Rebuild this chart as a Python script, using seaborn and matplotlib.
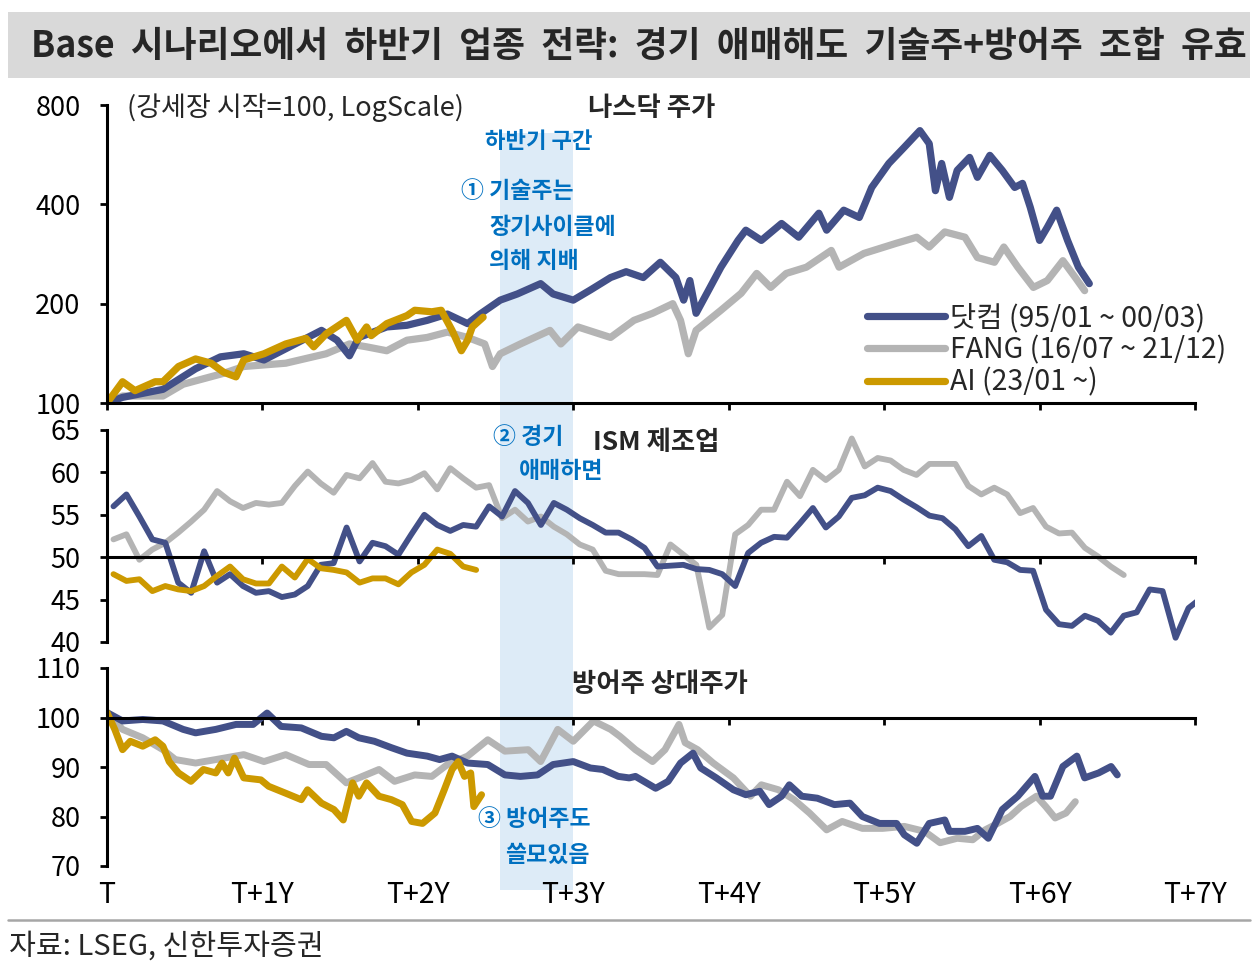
import pandas as pd
import seaborn as sns
import matplotlib.pyplot as plt
import matplotlib.transforms as mtransforms
from matplotlib.patches import Rectangle
from matplotlib.lines import Line2D

# 시리즈 이름, 색
names = ["닷컴 (95/01 ~ 00/03)", "FANG (16/07 ~ 21/12)", "AI (23/01 ~)"]
colors = ["#435088", "#B4B4B4", "#CC9900"]

# 나스닥 주가 (강세장 시작=100), (T 이후 연수, 값)
nasdaq_dot = [(0.00, 100), (0.10, 104), (0.36, 110), (0.57, 127), (0.73, 138), (0.88, 141),
              (1.01, 135), (1.15, 146), (1.38, 166), (1.48, 155), (1.56, 139), (1.62, 158),
              (1.80, 170), (1.93, 172), (2.06, 178), (2.19, 186), (2.32, 174), (2.40, 186),
              (2.53, 205), (2.64, 214), (2.79, 230), (2.87, 214), (3.00, 205), (3.11, 220),
              (3.24, 240), (3.34, 250), (3.45, 240), (3.56, 267), (3.66, 240), (3.71, 205),
              (3.75, 235), (3.79, 187), (3.88, 224), (3.95, 258), (4.06, 311), (4.11, 334),
              (4.21, 311), (4.34, 350), (4.45, 318), (4.58, 376), (4.63, 334), (4.74, 384),
              (4.84, 365), (4.92, 450), (5.03, 532), (5.13, 596), (5.23, 669), (5.29, 611),
              (5.33, 440), (5.37, 532), (5.42, 420), (5.47, 507), (5.55, 555), (5.60, 483),
              (5.68, 563), (5.76, 507), (5.84, 450), (5.89, 463), (5.94, 392), (6.00, 311),
              (6.05, 341), (6.11, 384), (6.18, 311), (6.25, 258), (6.32, 230)]
nasdaq_fang = [(0.00, 100), (0.10, 105), (0.36, 105), (0.49, 114), (0.75, 123), (0.88, 129),
               (1.15, 132), (1.41, 141), (1.56, 151), (1.67, 148), (1.80, 144), (1.93, 155),
               (2.06, 158), (2.19, 164), (2.32, 158), (2.43, 151), (2.48, 129), (2.53, 141),
               (2.66, 151), (2.85, 166), (2.92, 151), (3.03, 170), (3.24, 158), (3.39, 178),
               (3.51, 187), (3.64, 200), (3.69, 178), (3.74, 141), (3.79, 166), (3.95, 191),
               (4.08, 215), (4.18, 247), (4.27, 224), (4.37, 247), (4.50, 258), (4.66, 290),
               (4.71, 258), (4.87, 284), (5.08, 305), (5.21, 318), (5.29, 297), (5.39, 330),
               (5.52, 318), (5.60, 276), (5.71, 267), (5.77, 297), (5.86, 258), (5.96, 224),
               (6.05, 235), (6.15, 270), (6.23, 240), (6.29, 219)]
nasdaq_ai = [(0.00, 100), (0.10, 116), (0.18, 109), (0.31, 116), (0.36, 116), (0.46, 129),
             (0.57, 136), (0.67, 132), (0.75, 124), (0.83, 120), (0.88, 135), (1.01, 141),
             (1.15, 151), (1.28, 157), (1.33, 148), (1.41, 162), (1.54, 178), (1.61, 155),
             (1.67, 170), (1.70, 160), (1.80, 174), (1.93, 184), (1.98, 191), (2.09, 189),
             (2.15, 191), (2.22, 166), (2.28, 144), (2.32, 155), (2.35, 170), (2.42, 182)]

# ISM 제조업 (월간)
ism_dot = [56.0, 57.4, 54.8, 52.1, 51.7, 47.0, 45.8, 50.7, 47.0, 48.0, 46.6, 45.8, 46.0, 45.3,
           45.6, 46.6, 49.1, 49.3, 53.5, 49.5, 51.7, 51.3, 50.3, 52.7, 55.0, 53.8, 53.1, 53.8,
           53.6, 56.0, 54.8, 57.8, 56.4, 53.8, 56.4, 55.6, 54.6, 53.8, 52.9, 52.9, 52.1, 51.1,
           48.9, 49.0, 49.1, 48.6, 48.5, 48.0, 46.6, 50.5, 51.7, 52.4, 52.3, 54.0, 55.8, 53.5,
           54.8, 57.0, 57.3, 58.2, 57.8, 56.8, 55.9, 54.9, 54.6, 53.3, 51.3, 52.5, 49.7, 49.4,
           48.5, 48.4, 43.8, 42.1, 41.9, 43.1, 42.5, 41.1, 43.1, 43.5, 46.2, 46.0, 40.5, 44.0,
           45.2]
ism_fang = [52.1, 52.7, 49.7, 50.9, 51.7, 52.9, 54.2, 55.6, 57.8, 56.6, 55.8, 56.4, 56.2, 56.4,
            58.4, 60.1, 58.7, 57.6, 59.7, 59.3, 61.1, 58.9, 58.7, 59.1, 59.9, 58.0, 60.5, 59.3,
            58.2, 58.5, 54.6, 55.6, 54.2, 54.8, 53.6, 52.7, 51.5, 50.9, 48.4, 48.0, 48.0, 48.0,
            47.9, 51.5, 50.3, 49.1, 41.7, 43.2, 52.7, 53.8, 55.6, 55.6, 58.9, 57.2, 60.3, 59.1,
            60.3, 64.0, 60.7, 61.7, 61.4, 60.3, 59.7, 61.0, 61.0, 61.0, 58.4, 57.4, 58.2, 57.4,
            55.2, 55.8, 53.6, 52.8, 52.9, 51.1, 50.1, 48.9, 47.9]
ism_ai = [48.0, 47.2, 47.4, 46.0, 46.6, 46.2, 46.0, 46.6, 47.8, 48.9, 47.4, 46.9, 46.9, 48.9,
          47.6, 49.8, 48.7, 48.5, 48.2, 47.0, 47.5, 47.5, 46.8, 48.2, 49.1, 50.9, 50.4, 48.9,
          48.5]

# 방어주 상대주가
defen_dot = [(0.00, 101), (0.10, 99.3), (0.23, 99.6), (0.36, 99.3), (0.49, 97.6), (0.57, 96.9),
             (0.70, 97.6), (0.83, 98.6), (0.94, 98.6), (1.03, 100.9), (1.12, 98.2), (1.25, 97.9),
             (1.38, 96.2), (1.46, 95.9), (1.54, 97.2), (1.62, 95.9), (1.72, 95.2), (1.83, 93.9),
             (1.93, 92.8), (2.06, 92.2), (2.14, 91.5), (2.22, 92.2), (2.32, 90.8), (2.45, 90.5),
             (2.56, 88.4), (2.66, 88.1), (2.77, 88.4), (2.87, 90.5), (3.00, 91.1), (3.11, 89.8),
             (3.19, 89.5), (3.29, 88.1), (3.36, 87.8), (3.40, 88.1), (3.53, 85.7), (3.61, 87.1),
             (3.69, 90.8), (3.77, 92.8), (3.82, 89.8), (3.92, 87.8), (4.03, 85.4), (4.11, 84.4),
             (4.20, 85.1), (4.26, 82.4), (4.34, 84.1), (4.39, 86.4), (4.47, 84.1), (4.57, 83.7),
             (4.68, 82.4), (4.78, 82.7), (4.86, 80.0), (4.97, 78.6), (5.08, 78.6), (5.13, 76.3),
             (5.21, 74.6), (5.29, 78.6), (5.39, 79.3), (5.42, 77.0), (5.52, 77.0), (5.60, 77.6),
             (5.67, 75.6), (5.76, 81.4), (5.86, 84.1), (5.97, 88.1), (6.02, 84.1), (6.07, 84.1),
             (6.15, 90.1), (6.24, 92.2), (6.29, 87.8), (6.38, 88.8), (6.46, 90.1), (6.50, 88.4)]
defen_fang = [(0.00, 101), (0.10, 97.6), (0.23, 95.9), (0.36, 93.5), (0.44, 91.5), (0.57, 90.8),
              (0.70, 91.5), (0.88, 92.5), (1.01, 91.1), (1.15, 92.5), (1.30, 90.5), (1.41, 90.5),
              (1.54, 86.8), (1.62, 87.8), (1.75, 89.5), (1.85, 87.1), (1.98, 88.4), (2.09, 88.1),
              (2.19, 90.5), (2.32, 92.2), (2.45, 95.5), (2.56, 93.2), (2.71, 93.5), (2.79, 91.1),
              (2.90, 97.6), (3.00, 95.2), (3.13, 99.3), (3.24, 97.6), (3.30, 96.2), (3.40, 93.5),
              (3.51, 91.1), (3.59, 93.5), (3.68, 98.6), (3.72, 94.9), (3.80, 93.5), (3.90, 90.8),
              (4.03, 87.8), (4.14, 84.1), (4.21, 86.4), (4.32, 85.4), (4.42, 83.4), (4.52, 80.7),
              (4.63, 77.3), (4.73, 79.0), (4.86, 77.6), (4.99, 77.6), (5.13, 78.0), (5.26, 77.0),
              (5.36, 74.7), (5.47, 75.6), (5.57, 75.3), (5.65, 77.3), (5.73, 78.6), (5.81, 80.0),
              (5.88, 82.0), (5.98, 84.1), (6.04, 82.0), (6.10, 79.7), (6.17, 80.7), (6.23, 83.0)]
defen_ai = [(0.00, 101), (0.05, 97.6), (0.10, 93.5), (0.15, 95.2), (0.23, 94.2), (0.31, 95.5),
            (0.36, 94.2), (0.40, 91.1), (0.46, 88.8), (0.54, 87.1), (0.62, 89.5), (0.70, 88.8),
            (0.74, 90.8), (0.78, 88.8), (0.82, 91.8), (0.88, 87.8), (0.99, 87.4), (1.04, 86.1),
            (1.15, 84.7), (1.25, 83.4), (1.29, 85.4), (1.38, 82.7), (1.46, 81.4), (1.52, 79.3),
            (1.58, 86.8), (1.62, 84.1), (1.67, 86.8), (1.75, 84.1), (1.83, 83.4), (1.90, 82.4),
            (1.96, 79.0), (2.03, 78.6), (2.11, 80.7), (2.17, 85.4), (2.22, 89.5), (2.26, 91.1),
            (2.30, 88.1), (2.34, 88.8), (2.36, 82.0), (2.41, 84.4)]

xticks = [0, 1, 2, 3, 4, 5, 6, 7]
xtick_labels = ["T", "T+1Y", "T+2Y", "T+3Y", "T+4Y", "T+5Y", "T+6Y", "T+7Y"]
half_span = (2.53, 3.0)  # 하반기 구간


def pairs_df(series_list):
    rows = []
    for name, pts in zip(names, series_list):
        for t, v in pts:
            rows.append((name, t, v))
    return pd.DataFrame(rows, columns=["series", "t", "v"])


def monthly_df(series_list):
    rows = []
    for name, vals in zip(names, series_list):
        for i, v in enumerate(vals):
            rows.append((name, (i + 0.5) / 12, v))
    return pd.DataFrame(rows, columns=["series", "t", "v"])


df1 = pairs_df([nasdaq_dot, nasdaq_fang, nasdaq_ai])
df2 = monthly_df([ism_dot, ism_fang, ism_ai])
df3 = pairs_df([defen_dot, defen_fang, defen_ai])

sns.set_theme(style="white")
plt.rcParams["font.family"] = ["Noto Sans CJK KR", "DejaVu Sans"]
plt.rcParams["axes.unicode_minus"] = False

W, H = 1260, 975
fig = plt.figure(figsize=(12.6, 9.75), dpi=100)


def fx(px):
    return px / W


def fy(py):
    return 1 - py / H


x0, x1 = 107, 1195
ax1 = fig.add_axes([fx(x0), fy(403), (x1 - x0) / W, (403 - 105) / H])
ax2 = fig.add_axes([fx(x0), fy(642), (x1 - x0) / W, (642 - 430) / H])
ax3 = fig.add_axes([fx(x0), fy(866), (x1 - x0) / W, (866 - 668) / H])

lws = [5.2, 4.2, 5.0]
draw_order = [1, 0, 2]
for ax, df, lw in zip([ax1, ax2, ax3], [df1, df2, df3], lws):
    ax.set_facecolor("none")
    for k in draw_order:
        sub = df[df["series"] == names[k]]
        sns.lineplot(data=sub, x="t", y="v", color=colors[k], lw=lw, ax=ax,
                     label=names[k], sort=False, estimator=None)
    ax.set_xlim(0, 7)
    ax.set_xlabel("")
    ax.set_ylabel("")
    ax.set_xticks(xticks)
    for s in ["top", "right"]:
        ax.spines[s].set_visible(False)
    for s in ["left", "bottom"]:
        ax.spines[s].set_color("black")
        ax.spines[s].set_linewidth(2.2)
    ax.tick_params(axis="both", direction="out", length=5, width=2, colors="black",
                   labelsize=19.5, left=True, bottom=True, labelbottom=False)
    ax.tick_params(axis="y", pad=14)

# 나스닥 (log)
ax1.set_yscale("log", base=2)
ax1.set_ylim(100, 800)
ax1.set_yticks([100, 200, 400, 800])
ax1.set_yticklabels(["100", "200", "400", "800"])
ax1.minorticks_off()
h, l = ax1.get_legend_handles_labels()
order = [l.index(n) for n in names]
leg = ax1.legend([h[i] for i in order], [l[i] for i in order], loc="upper left",
                 bbox_to_anchor=(fx(867), fy(303)), bbox_transform=fig.transFigure,
                 frameon=False, fontsize=20.5, handlelength=2.75, handletextpad=0.15,
                 labelspacing=0.08, borderpad=0, borderaxespad=0)
for ln in leg.get_lines():
    ln.set_linewidth(5.2)

# ISM
ax2.set_ylim(40, 65)
ax2.set_yticks([40, 45, 50, 55, 60, 65])
ax2.spines["bottom"].set_position(("data", 50))
ax2.get_legend().remove()

# 방어주
ax3.set_ylim(70, 110)
ax3.set_yticks([70, 80, 90, 100, 110])
ax3.spines["bottom"].set_position(("data", 100))
ax3.get_legend().remove()
sec = ax3.secondary_xaxis(0)
sec.set_xticks(xticks)
sec.set_xticklabels(xtick_labels)
sec.spines["bottom"].set_visible(False)
sec.tick_params(length=0, pad=10, labelsize=20.5, colors="black")

# 하반기 구간 음영
trans = mtransforms.blended_transform_factory(ax1.transData, fig.transFigure)
fig.patches.append(Rectangle((half_span[0], fy(890)), half_span[1] - half_span[0],
                             (890 - 133) / H, transform=trans, facecolor="#DDEBF7",
                             edgecolor="none", zorder=-5))

# 제목 / 출처
fig.patches.append(Rectangle((fx(8), fy(78)), (1250 - 8) / W, 66 / H, transform=fig.transFigure,
                             facecolor="#D9D9D9", edgecolor="none", zorder=-5))
fig.text(fx(31), fy(46),
         "Base  시나리오에서  하반기  업종  전략:  경기  애매해도  기술주+방어주  조합  유효",
         fontsize=25.7, fontweight="bold", va="center", ha="left")
fig.lines.append(Line2D([fx(8), fx(1250)], [fy(920), fy(920)], transform=fig.transFigure,
                        color="#A6A6A6", lw=1.8))
fig.text(fx(9), fy(947), "자료: LSEG, 신한투자증권", fontsize=21, va="center", ha="left")

# 주석
blue = "#0070C0"
fig.text(fx(127), fy(108), "(강세장 시작=100, LogScale)", fontsize=19.5, va="center")
fig.text(fx(588), fy(108), "나스닥 주가", fontsize=19, fontweight="bold", va="center")
fig.text(fx(485), fy(141), "하반기 구간", fontsize=16, fontweight="bold", color=blue, va="center")
fig.text(fx(461), fy(192), "① 기술주는", fontsize=16.5, fontweight="bold", color=blue, va="center")
fig.text(fx(489), fy(227), "장기사이클에", fontsize=16.5, fontweight="bold", color=blue, va="center")
fig.text(fx(489), fy(262), "의해 지배", fontsize=16.5, fontweight="bold", color=blue, va="center")
fig.text(fx(493), fy(437), "② 경기", fontsize=16.5, fontweight="bold", color=blue, va="center")
fig.text(fx(519), fy(472), "애매하면", fontsize=16.5, fontweight="bold", color=blue, va="center")
fig.text(fx(593), fy(442), "ISM 제조업", fontsize=19, fontweight="bold", va="center")
fig.text(fx(572), fy(685), "방어주 상대주가", fontsize=19, fontweight="bold", va="center")
fig.text(fx(478), fy(820), "③ 방어주도", fontsize=16.5, fontweight="bold", color=blue, va="center")
fig.text(fx(505), fy(855), "쓸모있음", fontsize=16.5, fontweight="bold", color=blue, va="center")

fig.savefig("out.png", dpi=100)
